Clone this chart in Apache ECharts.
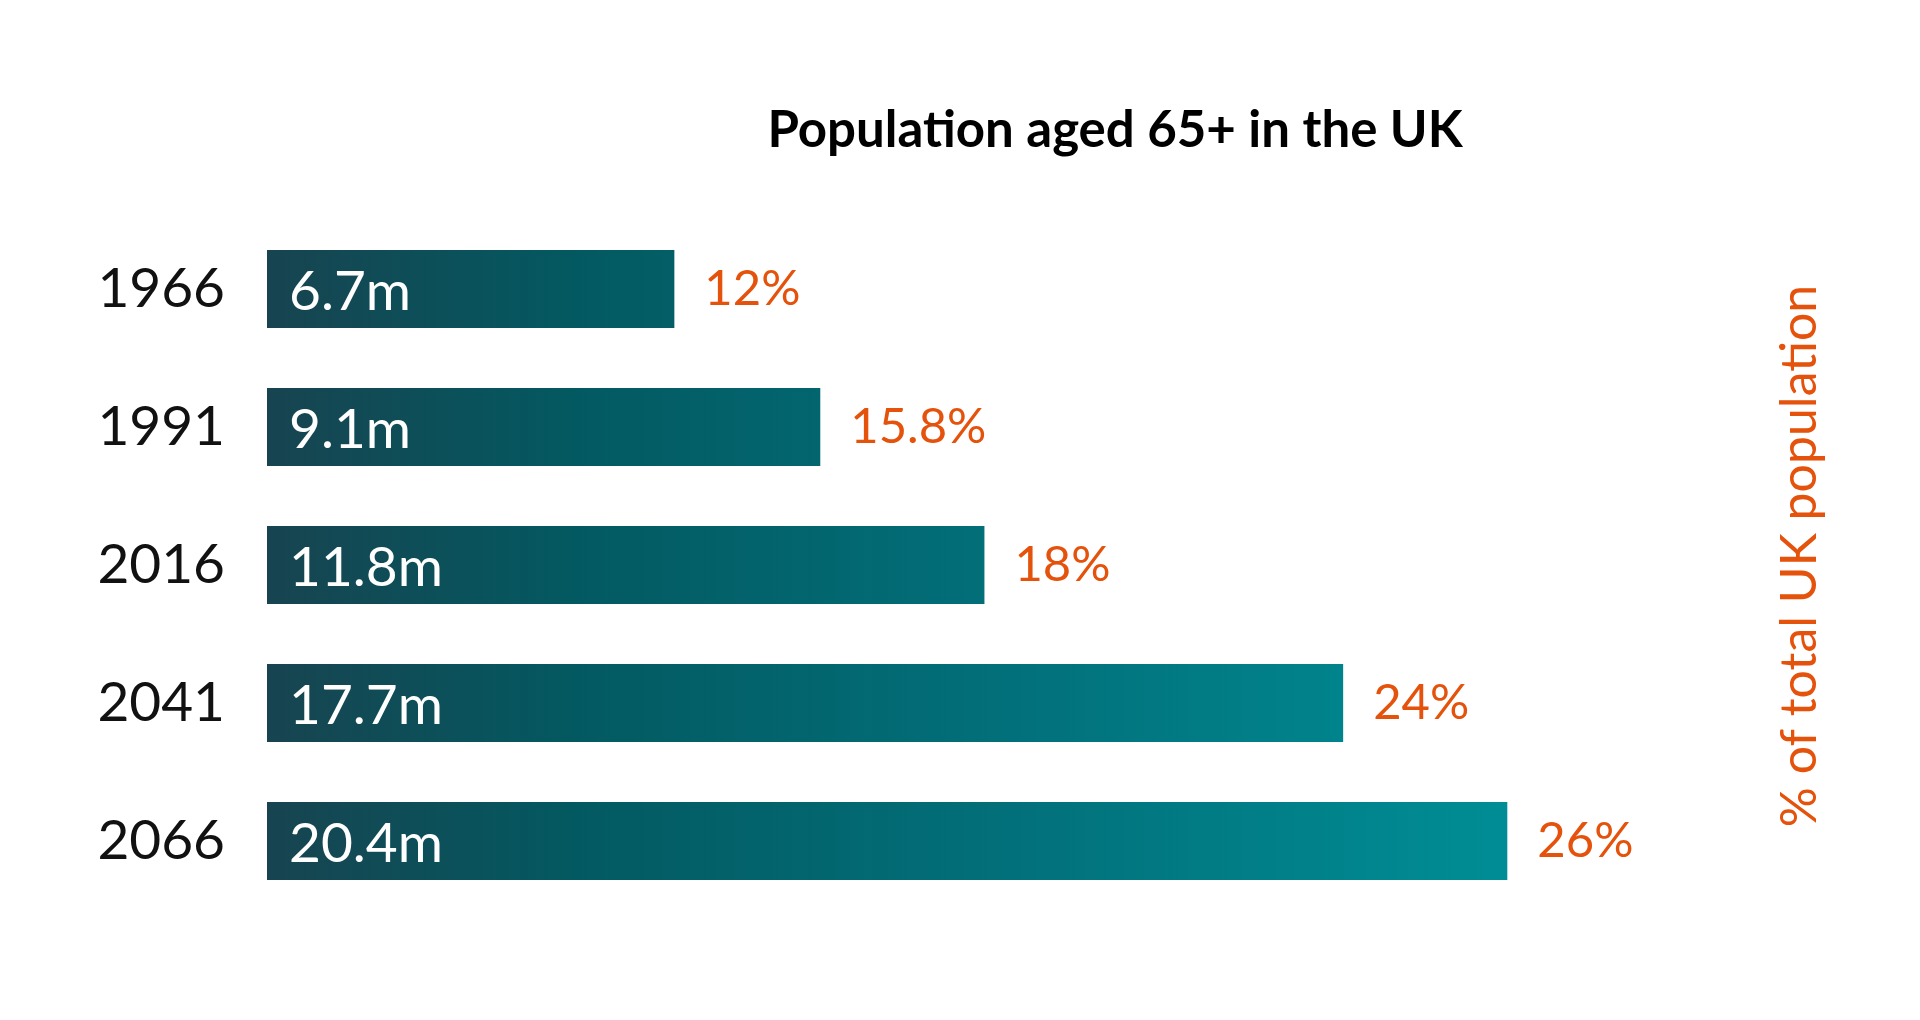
<!DOCTYPE html>
<html><head><meta charset="utf-8">
<script src="https://cdn.jsdelivr.net/npm/echarts@6/dist/echarts.min.js"></script>
<style>html,body{margin:0;padding:0;background:#fff}#c{width:1920px;height:1020px}</style>
</head><body><div id="c"></div>
<script>
var years = ['1966', '1991', '2016', '2041', '2066'];
var populationM = [6.7, 9.1, 11.8, 17.7, 20.4];
var populationLabels = ['6.7m', '9.1m', '11.8m', '17.7m', '20.4m'];
var shareLabels = ['12%', '15.8%', '18%', '24%', '26%'];
var titleText = 'Population aged 65+ in the UK';
var sideText = '% of total UK population';

var chart = echarts.init(document.getElementById('c'));
var FONT = 'Lato, "Noto Sans", sans-serif';
function makeOption(grad) {
  return {
    backgroundColor: '#ffffff',
    animation: false,
    title: {
      text: titleText, left: 1110, top: 100, textAlign: 'center',
      textStyle: { fontFamily: FONT, fontWeight: 'bold', fontSize: 51, color: '#000' }
    },
    grid: { left: 267, top: 220, width: 1520, height: 690 },
    xAxis: { type: 'value', min: 0, max: 25, show: false },
    yAxis: {
      type: 'category', data: years, inverse: true,
      axisLine: { show: false }, axisTick: { show: false },
      axisLabel: { margin: 42, fontFamily: FONT, fontWeight: 400, fontSize: 55, color: '#111' }
    },
    series: [{
      type: 'bar', data: populationM, barWidth: 78,
      itemStyle: { color: grad },
      label: {
        show: true, position: 'insideLeft', distance: 22, offset: [0, 3],
        formatter: function (p) { return populationLabels[p.dataIndex]; },
        fontFamily: FONT, fontWeight: 400, fontSize: 55, color: '#fff'
      }
    }, {
      type: 'bar', data: populationM, barWidth: 78, barGap: '-100%',
      itemStyle: { color: 'rgba(0,0,0,0)' },
      label: {
        show: true, position: 'right', distance: 30,
        formatter: function (p) { return shareLabels[p.dataIndex]; },
        fontFamily: FONT, fontWeight: 400, fontSize: 49, color: '#e4520c'
      }
    }],
    graphic: [{
      type: 'text', x: 1800, y: 556, rotation: Math.PI / 2,
      style: { text: sideText, fontFamily: FONT, fontSize: 50, fill: '#e4520c',
        textAlign: 'center', textVerticalAlign: 'middle' }
    }]
  };
}
chart.setOption(makeOption('#035a62'));
var x0 = chart.convertToPixel({ xAxisIndex: 0 }, 0);
var x1 = chart.convertToPixel({ xAxisIndex: 0 }, Math.max.apply(null, populationM));
var grad = new echarts.graphic.LinearGradient(x0, 0, x1, 0, [
  { offset: 0, color: '#174450' },
  { offset: 0.25, color: '#035961' },
  { offset: 0.6, color: '#02707a' },
  { offset: 1, color: '#008d95' }
], true);
chart.setOption(makeOption(grad));
</script></body></html>
